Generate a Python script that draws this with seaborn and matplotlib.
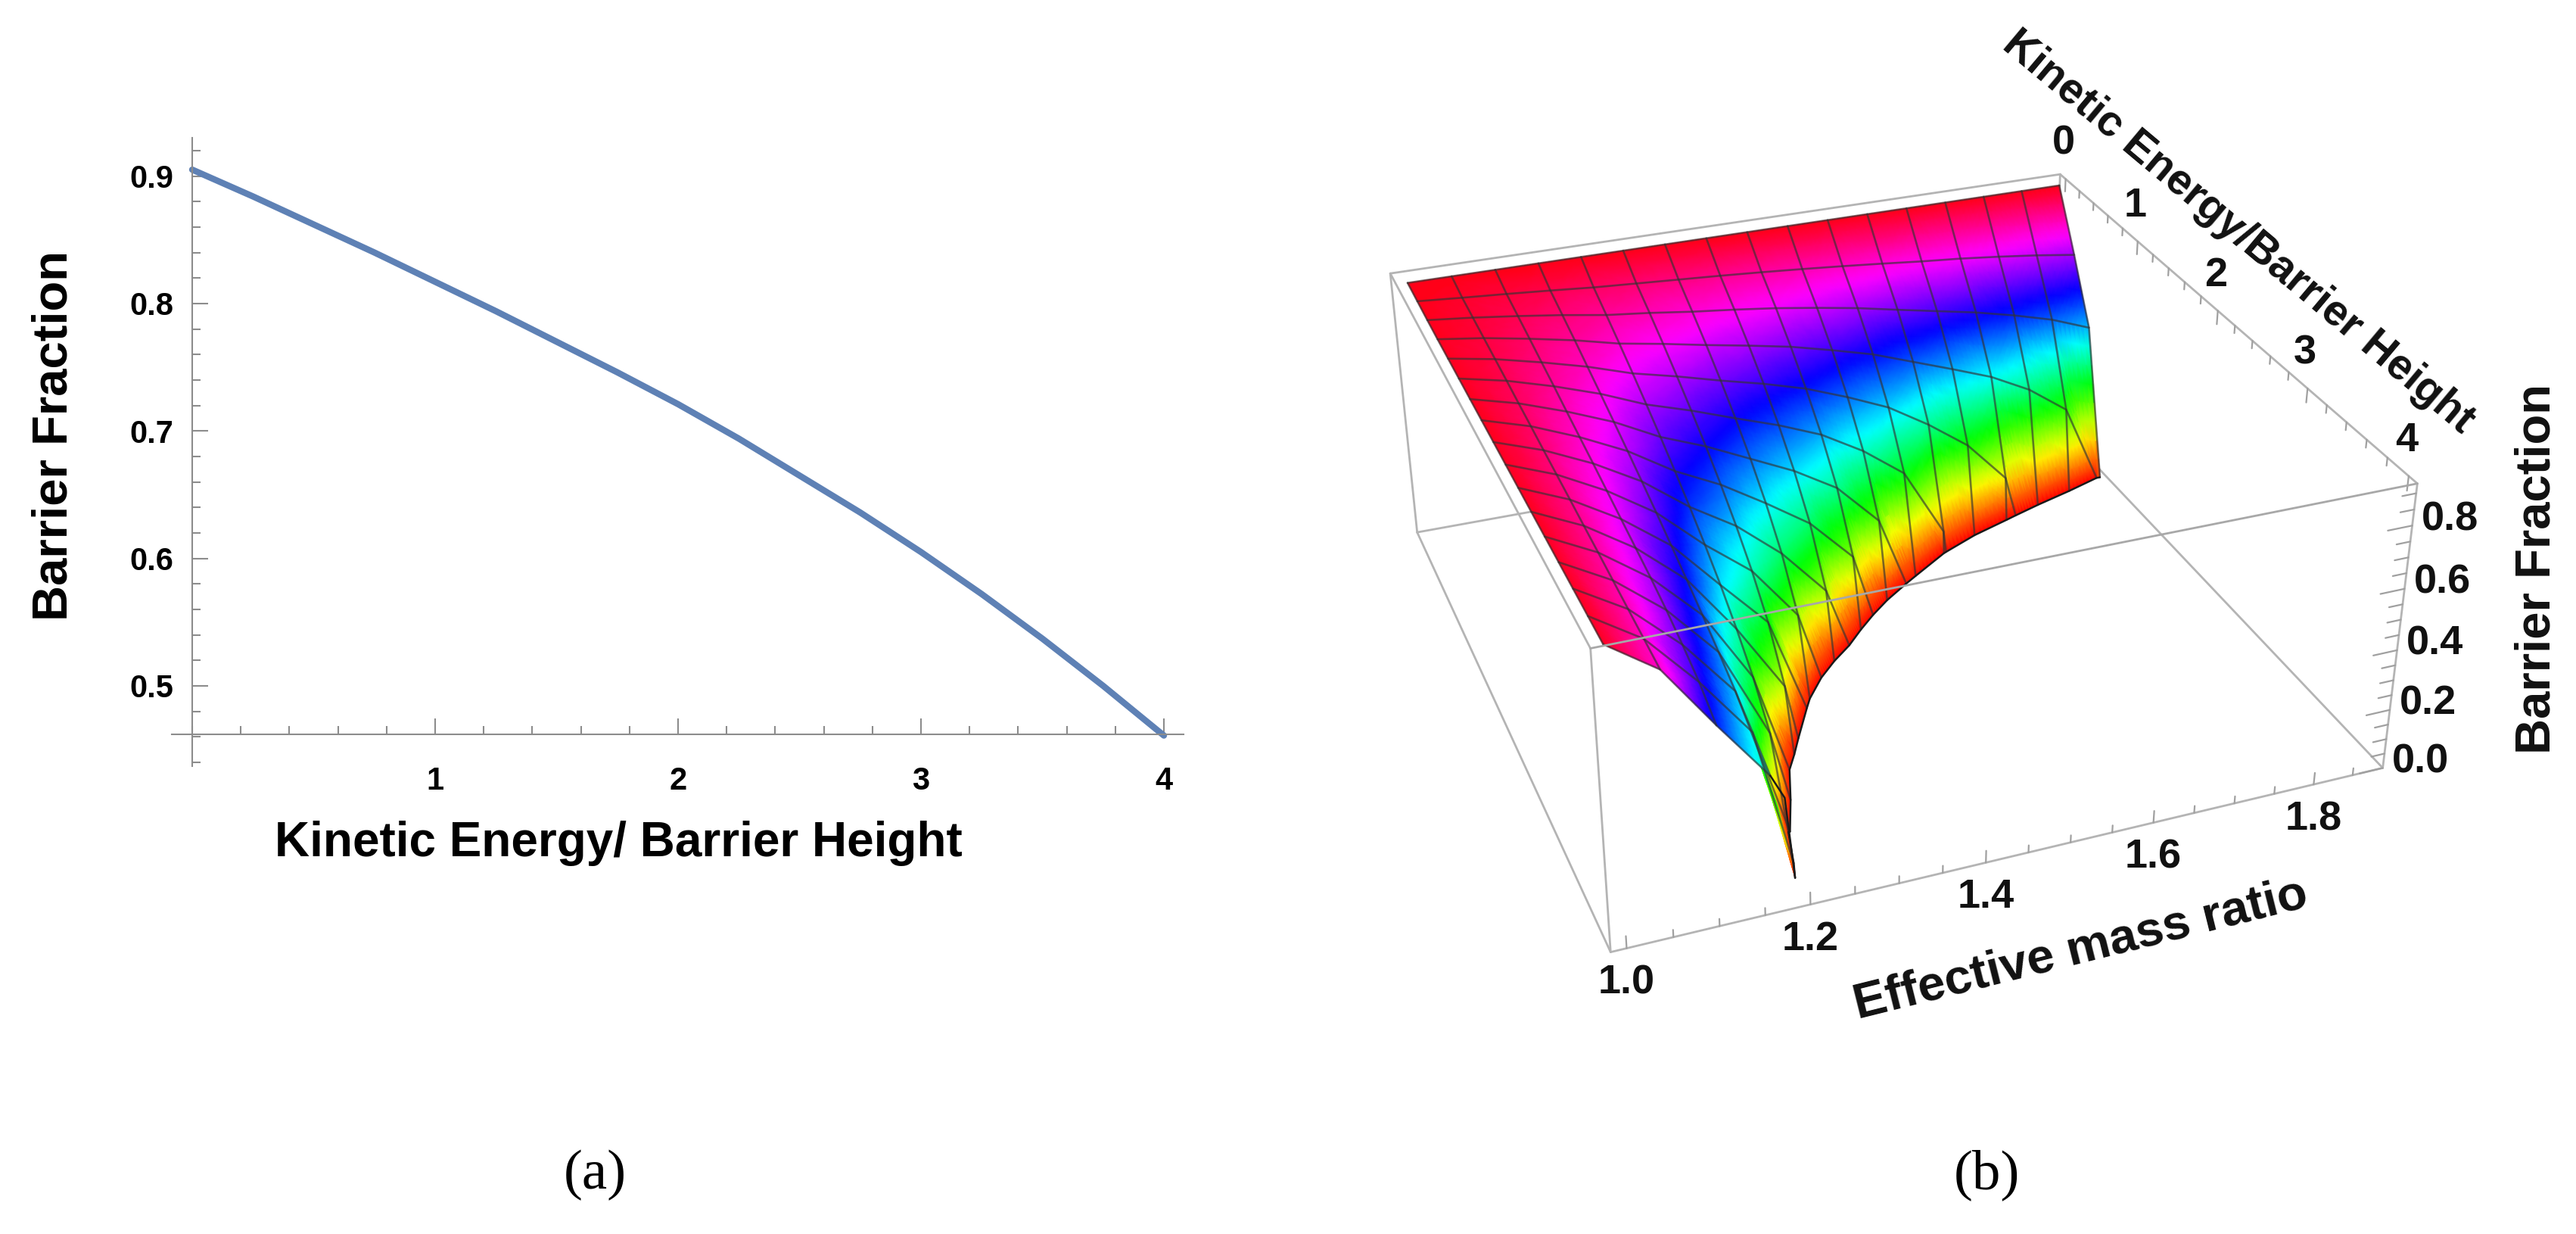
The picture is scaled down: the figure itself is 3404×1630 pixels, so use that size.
import numpy as np
import matplotlib
matplotlib.use('Agg')
import matplotlib.pyplot as plt
import matplotlib.tri as mtri
from matplotlib.ticker import MultipleLocator, NullFormatter
import pandas as pd
import seaborn as sns

##panel a values
ke_line = [0, 0.25, 0.5, 0.75, 1, 1.25, 1.5, 1.75, 2, 2.25, 2.5, 2.75, 3, 3.25, 3.5, 3.75, 4]
frac_line = [0.905, 0.884, 0.862, 0.840, 0.817, 0.794, 0.770, 0.746, 0.721, 0.694, 0.665, 0.636,
             0.605, 0.572, 0.537, 0.500, 0.461]

##panel b values, one list per effective mass ratio, ke goes up in steps of 0.25
ke_step = 0.25
mass_vals = [1.0, 1.055, 1.11, 1.165, 1.22, 1.275, 1.33, 1.385, 1.44, 1.495, 1.55, 1.605, 1.66,
             1.715, 1.77, 1.825, 1.88]
z_rows = [
    [.910, .908, .906, .905, .905, .905, .905, .905, .905, .905, .905, .905, .905, .905, .905, .905, .905],
    [.910, .897, .891, .885, .879, .873, .866, .860, .853, .847, .841, .834, .828, .821, .814, .807, .800],
    [.910, .887, .873, .859, .844, .830, .814, .799, .784, .768, .752, .736, .720, .700, .675, .645, .600],
    [.910, .876, .853, .830, .805, .780, .754, .727, .699, .670, .639, .607, .573, .537, .498, .456, .410],
    [.910, .864, .830, .795, .758, .719, .678, .634, .587, .536, .480, .415, .339, .240],
    [.910, .855, .814, .770, .723, .673, .620, .561, .495, .419, .325, .190],
    [.910, .846, .795, .742, .684, .621, .551, .470, .372, .237],
    [.910, .837, .779, .716, .648, .571, .482, .372, .212],
    [.910, .827, .761, .688, .606, .512, .395, .225],
    [.910, .816, .739, .652, .551, .428, .250],
    [.910, .804, .715, .613, .489, .321],
    [.910, .791, .686, .562, .401, .079],
    [.910, .777, .658, .511, .299],
    [.910, .765, .630, .458, .150],
    [.910, .750, .596, .386],
    [.910, .733, .557, .286],
    [.910, .713, .504],
]
#where the surface reaches zero, for each mass line and each ke line
zero_ke_by_mass = [3.5, 2.88, 2.42, 2.12, 1.87, 1.63, 1.44, 1.26, 1.13, 1.03, 0.93, 0.84, 0.75]
zero_mass_by_ke = [1.875, 1.731, 1.609, 1.532, 1.466, 1.414, 1.358, 1.32, 1.29, 1.26, 1.242, 1.222, 1.207]
zero_ke_list = [0.75, 1, 1.25, 1.5, 1.75, 2, 2.25, 2.5, 2.75, 3, 3.25, 3.5, 3.75]
#the thin tip at the front of the surface
tip_mass = [1.18, 1.20]
tip_ke = [4.0, 3.86]
tip_z = [0.33, 0.0]

mass_ticks = [1.0, 1.2, 1.4, 1.6, 1.8]
ke_ticks = [0, 1, 2, 3, 4]
z_ticks = [0.0, 0.2, 0.4, 0.6, 0.8]

W, H = 3404, 1630
sns.set_theme(style='white')
plt.rcParams['font.family'] = ['Liberation Sans', 'DejaVu Sans']
fig = plt.figure(figsize=(W / 100, H / 100), dpi=100)

##panel a
ax = fig.add_axes([227 / W, 1 - 1012 / H, (1564 - 227) / W, (1012 - 182) / H])
line_df = pd.DataFrame({'ke': ke_line, 'frac': frac_line})
sns.lineplot(data=line_df, x='ke', y='frac', color='#5E81B5', linewidth=6, errorbar=None, ax=ax,
             clip_on=False)
ax.set_xlim(-0.084, 4.081)
ax.set_ylim(0.437, 0.930)
for s in ['top', 'right']:
    ax.spines[s].set_visible(False)
ax.spines['left'].set_position(('data', 0))
ax.spines['bottom'].set_position(('data', 0.462))
for s in ['left', 'bottom']:
    ax.spines[s].set_color('#8c8c8c')
    ax.spines[s].set_linewidth(1.5)
ax.patch.set_alpha(0)
ax.set_xticks([1, 2, 3, 4])
ax.set_yticks([0.5, 0.6, 0.7, 0.8, 0.9])
ax.xaxis.set_minor_locator(MultipleLocator(0.2))
ax.yaxis.set_minor_locator(MultipleLocator(0.02))
ax.xaxis.set_minor_formatter(NullFormatter())
ax.yaxis.set_minor_formatter(NullFormatter())
ax.tick_params(which='major', direction='in', length=15, width=1.5, color='#8c8c8c', labelsize=30,
               labelcolor='black', bottom=True, left=True)
ax.tick_params(which='minor', direction='in', length=8, width=1.5, color='#8c8c8c', bottom=True, left=True)
ax.tick_params(axis='x', which='major', pad=30)
ax.tick_params(axis='y', which='major', pad=18)
for t in ax.get_xticklabels() + ax.get_yticklabels():
    t.set_fontweight('bold')
ax.set_xlabel('')
ax.set_ylabel('')

##panel b, box corners are used to get the view of the 3d box
ov = fig.add_axes([0, 0, 1, 1])
ov.set_xlim(0, W)
ov.set_ylim(H, 0)
ov.axis('off')

m0, m1 = 0.983, 1.889
k0, k1 = -0.08, 4.08
z0, z1 = 0.0, 0.93
corner_3d = [(m0, k0, z1), (m1, k0, z1), (m1, k1, z1), (m0, k1, z1),
             (m0, k0, z0), (m1, k0, z0), (m1, k1, z0), (m0, k1, z0)]
corner_px = [(1839, 363), (2720, 226), (3194, 637), (2103, 862),
             (1871, 697), (2712, 560), (3149, 1011), (2127, 1258)]
rows = []
for (a, b, c), (u, v) in zip(corner_3d, corner_px):
    u, v = u / 1000, v / 1000
    rows.append([a, b, c, 1, 0, 0, 0, 0, -u * a, -u * b, -u * c, -u])
    rows.append([0, 0, 0, 0, a, b, c, 1, -v * a, -v * b, -v * c, -v])
cam = np.linalg.svd(np.array(rows, dtype=float))[2][-1].reshape(3, 4)


def project(m, k, z):
    m, k, z = np.asarray(m, float), np.asarray(k, float), np.asarray(z, float)
    w = cam[2, 0] * m + cam[2, 1] * k + cam[2, 2] * z + cam[2, 3]
    x = (cam[0, 0] * m + cam[0, 1] * k + cam[0, 2] * z + cam[0, 3]) / w
    y = (cam[1, 0] * m + cam[1, 1] * k + cam[1, 2] * z + cam[1, 3]) / w
    return x * 1000, y * 1000


def edge3d(p, q, zorder, color='#b4b4b4', lw=2.0):
    x, y = project([p[0], q[0]], [p[1], q[1]], [p[2], q[2]])
    ov.plot(x, y, color=color, lw=lw, zorder=zorder, solid_capstyle='round')


#box edges behind the surface
for a, b in [(4, 5), (5, 6), (1, 5), (0, 1), (4, 7), (0, 4), (6, 7), (1, 2), (2, 6), (3, 7), (0, 3)]:
    edge3d(corner_3d[a], corner_3d[b], 1)

#surface
pts_m, pts_k, pts_z = [], [], []
for m, row in zip(mass_vals, z_rows):
    for i, z in enumerate(row):
        pts_m.append(m)
        pts_k.append(i * ke_step)
        pts_z.append(z)
for m, k in zip(mass_vals[4:], zero_ke_by_mass):
    pts_m.append(m)
    pts_k.append(k)
    pts_z.append(0.0)
for m, k in zip(zero_mass_by_ke, zero_ke_list):
    pts_m.append(m)
    pts_k.append(k)
    pts_z.append(0.0)
pts_m = np.array(pts_m + tip_mass)
pts_k = np.array(pts_k + tip_ke)
pts_z = np.array(pts_z + tip_z)

#drop the triangles outside the zero curve
tri0 = mtri.Triangulation(pts_m * 4.5, pts_k)
tx = tri0.x[tri0.triangles]
ty = tri0.y[tri0.triangles]
longest = np.hypot(tx - np.roll(tx, 1, axis=1), ty - np.roll(ty, 1, axis=1)).max(axis=1)
keep = tri0.triangles[(pts_z[tri0.triangles].max(axis=1) > 0) & (longest < 0.8)]
tri1 = mtri.Triangulation(pts_m * 4.5, pts_k, keep)
fine, fine_z = mtri.UniformTriRefiner(tri1).refine_field(pts_z, mtri.LinearTriInterpolator(tri1, pts_z), subdiv=3)
fx, fy = project(fine.x / 4.5, fine.y, fine_z)
ov.tripcolor(fx, fy, fine.triangles, fine_z, shading='gouraud', vmin=0, vmax=0.91,
             cmap=sns.color_palette('hsv', as_cmap=True), zorder=2)

#mesh lines
mesh = dict(color='#333333', lw=1.9, alpha=0.65, zorder=3)
for j, (m, row) in enumerate(zip(mass_vals, z_rows)):
    ks = [i * ke_step for i in range(len(row))]
    zs = list(row)
    if j >= 4:
        ks.append(zero_ke_by_mass[j - 4])
        zs.append(0.0)
    x, y = project([m] * len(ks), ks, zs)
    ov.plot(x, y, **mesh)
for n in range(17):
    k = n * ke_step
    ms = [m for m, row in zip(mass_vals, z_rows) if n < len(row)]
    zs = [row[n] for row in z_rows if n < len(row)]
    if k in zero_ke_list:
        ms.append(zero_mass_by_ke[zero_ke_list.index(k)])
        zs.append(0.0)
    x, y = project(ms, [k] * len(ms), zs)
    ov.plot(x, y, **mesh)
#outline of the front part of the surface and the zero curve
x, y = project([mass_vals[3]] + tip_mass, [4.0] + tip_ke, [z_rows[3][-1]] + tip_z)
ov.plot(x, y, color='#1a1a1a', lw=1.8, zorder=3)
ob_m = np.array(zero_mass_by_ke + mass_vals[4:] + tip_mass[1:])
ob_k = np.array(zero_ke_list + zero_ke_by_mass + tip_ke[1:])
order = np.argsort(ob_m)
x, y = project(ob_m[order], ob_k[order], np.zeros(len(ob_m)))
ov.plot(x, y, color='#1a1a1a', lw=1.8, zorder=3)

#box edge in front of the surface
edge3d(corner_3d[2], corner_3d[3], 4, color='#a8a8a8')

#ticks
def tick3d(p, q):
    x, y = project([p[0], q[0]], [p[1], q[1]], [p[2], q[2]])
    ov.plot(x, y, color='#a0a0a0', lw=1.6, zorder=1)


for m in np.arange(1.0, 1.86, 0.05):
    ln = 0.04 if min(abs(m - t) for t in mass_ticks) < 1e-6 else 0.024
    tick3d((m, k1, z0), (m, k1, z0 + ln))
for k in np.arange(0, 4.01, 0.2):
    ln = 0.045 if min(abs(k - t) for t in ke_ticks) < 1e-6 else 0.025
    tick3d((m1, k, z1), (m1, k, z1 - ln))
for z in np.arange(0, 0.91, 0.05):
    ln = 0.03 if min(abs(z - t) for t in z_ticks) < 1e-6 else 0.017
    tick3d((m1, k1, z), (m1 - ln, k1, z))

bold = dict(fontweight='bold', color='#111111', ha='center', va='center')
for m in mass_ticks:
    x, y = project(m, k1, z0)
    ov.text(x + 0, y + 46, '%.1f' % m, fontsize=39, **bold)
for k in ke_ticks:
    x, y = project(m1, k, z1)
    ov.text(x - 3, y - 47, str(k), fontsize=39, **bold)
for z in z_ticks:
    x, y = project(m1, k1, z)
    ov.text(x + 50, y - 8, '%.1f' % z, fontsize=39, **bold)

ov.text(2749, 1255, 'Effective mass ratio', fontsize=47, rotation=14, rotation_mode='anchor', **bold)
ov.text(2958, 307, 'Kinetic Energy/Barrier Height', fontsize=41, rotation=-40, rotation_mode='anchor', **bold)
ov.text(3352, 752, 'Barrier Fraction', fontsize=47, rotation=90, rotation_mode='anchor', **bold)

#panel a labels and captions
ov.text(817, 1114, 'Kinetic Energy/ Barrier Height', fontsize=46, fontweight='bold', color='black',
        ha='center', va='center')
ov.text(72, 575, 'Barrier Fraction', fontsize=47, fontweight='bold', color='black', rotation=90,
        rotation_mode='anchor', ha='center', va='center')
ov.text(786, 1552, '(a)', fontsize=54, family='Liberation Serif', color='black', ha='center', va='center')
ov.text(2625, 1552, '(b)', fontsize=54, family='Liberation Serif', color='black', ha='center', va='center')

fig.savefig('out.png', dpi=100)
